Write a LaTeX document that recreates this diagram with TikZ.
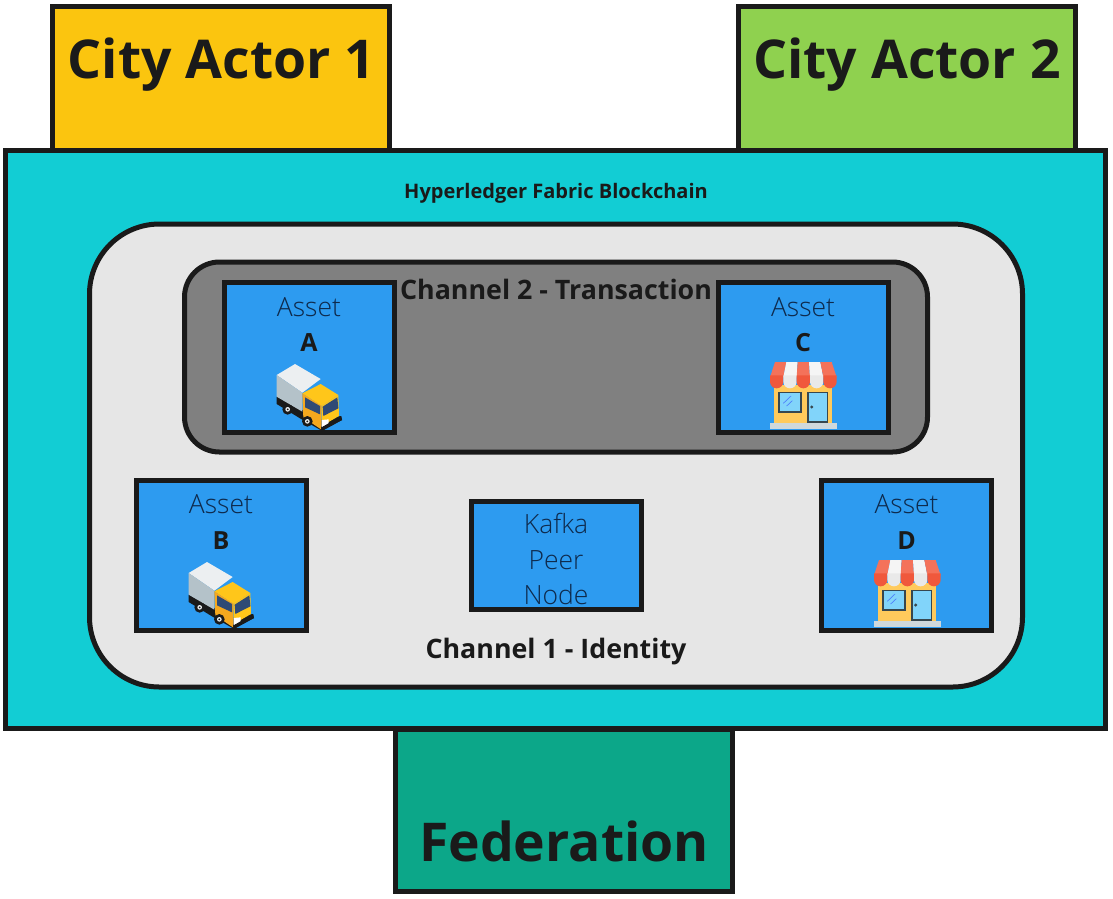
\documentclass[tikz,border=0pt]{standalone}
\usepackage{fontspec}
\setmainfont{Open Sans}
\newfontfamily\thinfont{Open Sans Light}
\usepackage{tikz}
\usetikzlibrary{positioning}

\definecolor{lineDark}{HTML}{1A1A1A}
\definecolor{actorYellow}{HTML}{FBC50F}
\definecolor{actorGreen}{HTML}{8FD14F}
\definecolor{fabricTeal}{HTML}{12CDD4}
\definecolor{fedGreen}{HTML}{0CA789}
\definecolor{channelLight}{HTML}{E6E6E6}
\definecolor{channelDark}{HTML}{808080}
\definecolor{assetBlue}{HTML}{2D9BF0}
\definecolor{thinText}{HTML}{0E2A4C}
\definecolor{awningRed}{HTML}{F4725A}
\definecolor{scallopRed}{HTML}{F0583C}
\definecolor{stripeLight}{HTML}{F5F5F5}
\definecolor{scallopLight}{HTML}{E9E9E9}
\definecolor{shopLine}{HTML}{37474F}
\definecolor{shopGlass}{HTML}{81D4FA}
\definecolor{shopWall}{HTML}{FFCA5C}
\definecolor{shopBase}{HTML}{CFD8DC}
\definecolor{truckTop}{HTML}{ECEFF1}
\definecolor{truckSide}{HTML}{B4C2C9}
\definecolor{truckCab}{HTML}{FFC61A}
\definecolor{truckCabSide}{HTML}{F5A81E}
\definecolor{truckGlass}{HTML}{2F4A75}

\tikzset{
	pics/truck/.style={code={
		\fill [lineDark] (170,350) -- (170,372) -- (240,415) -- (305,452) -- (366,420) -- (362,408) -- (300,420) -- (247,390) -- cycle;
		\fill [truckTop] (170,285) -- (225,252) -- (302,297) -- (247,338) -- cycle;
		\fill [truckSide] (170,285) -- (247,338) -- (247,395) -- (170,350) -- cycle;
		\fill [truckCab] (247,340) -- (302,312) -- (355,345) -- (305,378) -- cycle;
		\fill [truckCabSide] (247,340) -- (305,378) -- (303,448) -- (250,412) -- cycle;
		\fill [truckCab] (305,378) -- (355,345) -- (357,408) -- (305,438) -- cycle;
		\fill [truckGlass] (255,352) -- (300,378) -- (300,403) -- (255,382) -- cycle;
		\fill [truckGlass] (308,380) -- (352,352) -- (355,385) -- (310,408) -- cycle;
		\fill [white] (305,420) -- (326,418) -- (326,432) -- (305,442) -- cycle;
		\fill [lineDark] (303,443) -- (364,408) -- (366,420) -- (308,452) -- cycle;
		\foreach \wx/\wy in {203/388, 262/424} {
			\fill [lineDark] (\wx,\wy) circle (16);
			\fill [truckTop] (\wx,\wy) circle (7);
			\fill [lineDark] (\wx,\wy) circle (3);
		}
	}},
	pics/shop/.style={code={
		\fill [shopWall] (177,315) rectangle (352,430);
		\foreach \i/\col in {0/awningRed, 1/stripeLight, 2/awningRed, 3/stripeLight, 4/awningRed} {
			\fill [\col] ({180+34*\i},246) -- ({214+34*\i},246) -- ({205+40*\i},292) -- ({165+40*\i},292) -- cycle;
		}
		\foreach \i/\col in {0/scallopRed, 1/scallopLight, 2/scallopRed, 3/scallopLight, 4/scallopRed} {
			\fill [\col] ({165+40*\i},286) -- ({205+40*\i},286) -- ({205+40*\i},305) arc (0:-180:20 and -20) -- cycle;
		}
		\draw [shopLine, line width=1.5pt, fill=shopGlass] (192,338) rectangle (258,396);
		\draw [shopLine, line width=1.5pt, fill=shopGlass] (279,338) rectangle (337,426);
		\draw [shopGlass!60!blue, line width=0.7pt] (205,370) -- (228,348) (215,378) -- (232,362);
		\fill [shopLine] (290,381) circle (5);
		\fill [shopBase] (165,430) rectangle (366,447);
	}}
}

\begin{document}
\begin{tikzpicture}[x=1pt, y=-1pt]
	\tikzstyle{Box}		= [rectangle, draw=lineDark, line width=5pt, inner sep=0pt]
	\tikzstyle{Big}		= [text=lineDark, font=\fontsize{53.5}{64}\selectfont\bfseries, inner sep=0pt]
	\tikzstyle{Head}	= [text=lineDark, font=\fontsize{26.8}{32}\selectfont\bfseries, inner sep=0pt]
	\tikzstyle{Asset}	= [Box, fill=assetBlue, minimum width=170pt, minimum height=150pt]
	\tikzstyle{Words}	= [text=thinText, align=center, inner sep=0pt, font=\fontsize{26.5}{35.5}\selectfont\thinfont]

	\useasboundingbox (0,0) rectangle (1113,898);

	\node (actor1) at (221,78) [Box, fill=actorYellow, minimum width=337pt, minimum height=144pt] {};
	\node (actor2) at (907,78) [Box, fill=actorGreen, minimum width=337pt, minimum height=144pt] {};
	\node (fed) at (564,810) [Box, fill=fedGreen, minimum width=337pt, minimum height=162pt] {};
	\node (fabric) at (555.75,439) [Box, fill=fabricTeal, minimum width=1100pt, minimum height=578pt] {};
	\node (chan1) at (556,455.5) [Box, fill=channelLight, rounded corners=70pt, minimum width=933pt, minimum height=463pt] {};
	\node (chan2) at (556,357) [Box, fill=channelDark, rounded corners=35pt, minimum width=743pt, minimum height=190pt] {};

	\foreach \nm/\x/\y in {A/309/357.5, C/803/357.5, B/221/555, D/906.5/555} {
		\node (asset\nm) at (\x,\y) [Asset] {};
		\node (words\nm) at (\x,\y-33) [Words] {Asset\\\textcolor{lineDark}{\normalfont\fontsize{25}{35.5}\selectfont\textbf{\nm}}};
	}
	\node (kafka) at (556,555) [Asset, minimum height=108pt] {};
	\node (wordsK) at (556,559) [Words] {Kafka\\Peer\\Node};

	\pic at (220,280) [scale=1/3] {truck};
	\pic at (132,478) [scale=1/3] {truck};
	\pic at (715,280) [scale=1/3] {shop};
	\pic at (819,478) [scale=1/3] {shop};

	\node (name1) at (221.5,65) [Big] {City Actor 1};
	\node (name2) at (907,65) [Big] {City Actor 2};
	\node (nameF) at (564,841) [Big] {Federation};
	\node (nameBC) at (556,193) [text=lineDark, inner sep=0pt, font=\fontsize{20}{24}\selectfont\bfseries] {Hyperledger Fabric Blockchain};
	\node (name2T) at (556,289) [Head] {Channel 2 - Transaction};
	\node (name1I) at (556,652) [Head] {Channel 1 - Identity};
\end{tikzpicture}
\end{document}
